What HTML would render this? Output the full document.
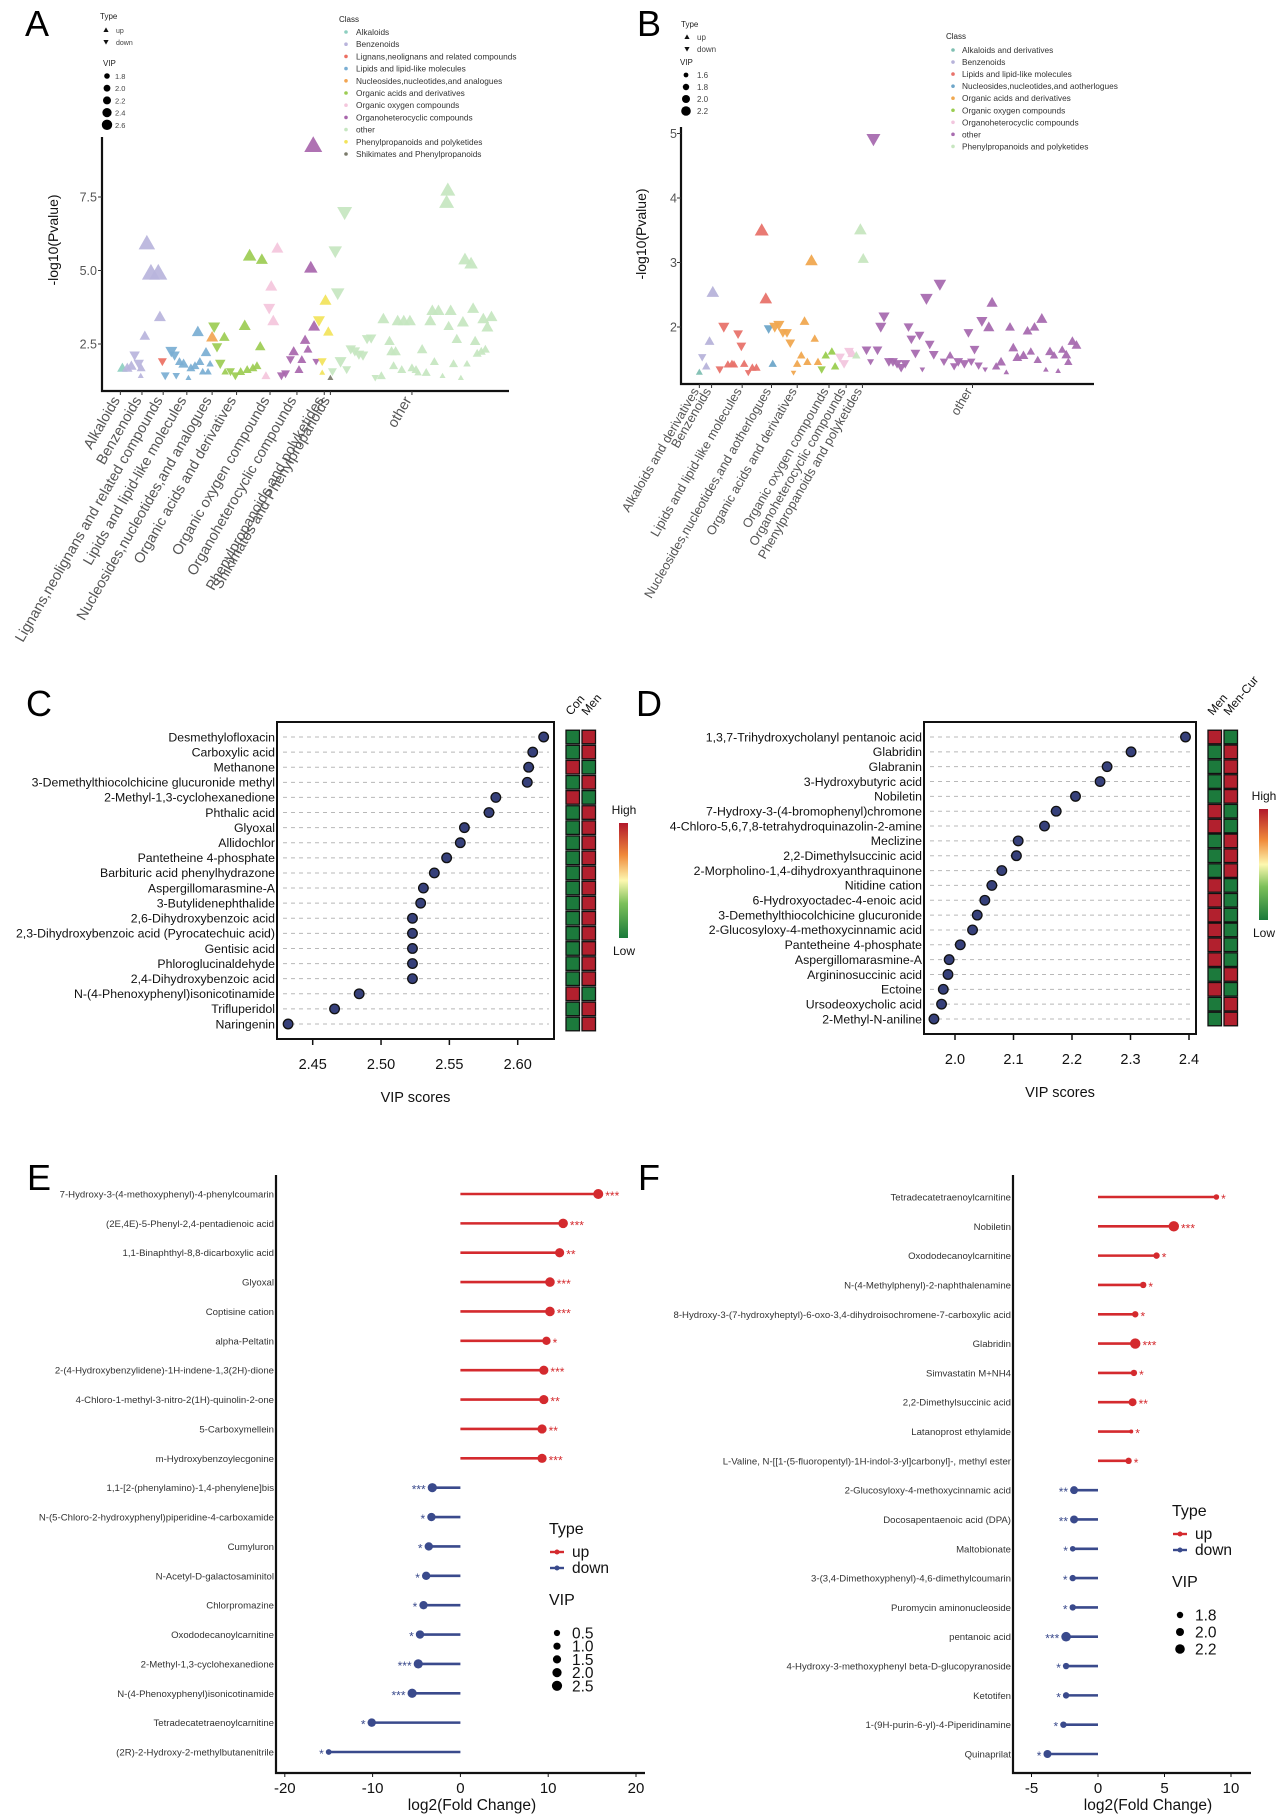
<!DOCTYPE html>
<html><head><meta charset="utf-8">
<style>
html,body{margin:0;padding:0;background:#fff;}
svg{display:block;font-family:"Liberation Sans",Arial,sans-serif;}
</style></head>
<body>
<svg id="fig" width="1279" height="1815" viewBox="0 0 1279 1815" xmlns="http://www.w3.org/2000/svg">
<defs>
<linearGradient id="cbar" x1="0" y1="1" x2="0" y2="0">
<stop offset="0" stop-color="#1a7a3a"/><stop offset="0.3" stop-color="#7cc05a"/><stop offset="0.5" stop-color="#fdf8b0"/><stop offset="0.72" stop-color="#f08a3a"/><stop offset="1" stop-color="#b2182b"/>
</linearGradient>
</defs>
<rect x="0" y="0" width="1279" height="1815" fill="#fff"/>
<text x="25" y="36" font-size="36">A</text>
<text x="637" y="36" font-size="36">B</text>
<text x="26" y="716" font-size="36">C</text>
<text x="636" y="716" font-size="36">D</text>
<text x="27" y="1190" font-size="36">E</text>
<text x="638" y="1190" font-size="36">F</text>
</svg>
<script>
// ---------- Panel A data ----------
const aClasses = ["Alkaloids","Benzenoids","Lignans,neolignans and related compounds","Lipids and lipid-like molecules","Nucleosides,nucleotides,and analogues","Organic acids and derivatives","Organic oxygen compounds","Organoheterocyclic compounds","other","Phenylpropanoids and polyketides","Shikimates and Phenylpropanoids"];
const aColors = ["#8dcfc0","#b9b4dc","#ec6f62","#7aaed3","#f2a552","#9ccc52","#f4c6dc","#a866ac","#c6e6c0","#f2e35a","#7a7a6a"];
const aTickIdx = [295,348,400,458,520,580,662,728,795,810,1010];
const aTickLabels = ["Alkaloids","Benzenoids","Lignans,neolignans and related compounds","Lipids and lipid-like molecules","Nucleosides,nucleotides,and analogues","Organic acids and derivatives","Organic oxygen compounds","Organoheterocyclic compounds","Phenylpropanoids and polyketides","Shikimates and Phenylpropanoids","other"];
const aYTicks = [2.5,5.0,7.5];
const aIdx = [300,312,322,330,340,346,345,355,360,370,388,392,398,
405,420,428,432,440,450,462,468,478,485,490,497,505,510,515,520,
525,532,540,550,552,565,577,590,600,606,612,620,630,638,642,
652,660,665,670,680,
690,700,712,720,733,740,748,755,762,768,770,775,
782,790,790,798,805,810,
815,822,828,835,845,850,860,870,880,890,900,910,920,935,940,955,960,965,970,975,985,990,1005,1010,1020,1025,1035,1045,1055,1060,1065,1075,1085,1095,1098,1100,1105,1112,1120,1130,1135,1140,1145,1155,1160,1165,1170,1180,1185,1190,1195,1205];
const aVal = [1.69,1.69,1.76,2.11,1.83,1.69,1.42,2.78,5.93,4.92,4.92,3.43,1.90,
1.42,2.25,2.11,1.42,1.90,1.83,1.35,1.69,1.76,2.92,1.90,1.56,2.22,1.56,1.83,2.74,
3.08,2.39,1.83,2.74,1.56,1.56,1.42,1.56,3.13,1.63,5.51,1.69,1.76,2.42,5.38,
1.42,3.71,4.47,3.29,5.76,
1.42,1.49,1.97,2.25,1.63,1.97,2.64,2.32,5.10,9.26,3.11,1.90,
3.29,1.90,1.53,3.99,2.92,1.35,
1.56,5.65,4.22,1.90,6.97,1.63,2.32,2.25,2.14,2.11,2.67,2.69,1.35,1.42,3.36,2.60,2.25,1.76,2.25,3.29,1.63,3.29,3.29,1.69,1.63,1.53,2.32,1.53,3.29,3.64,1.90,3.64,1.42,7.32,7.74,3.11,3.64,1.83,2.67,1.35,3.25,5.38,1.83,5.24,3.71,2.60,2.18,2.25,3.36,2.32,3.08,3.43];
const aUp = [1,1,1,0,0,1,1,1,1,1,1,1,0,
0,0,0,0,1,1,1,1,1,1,1,1,1,1,1,1,
0,0,0,1,1,0,0,1,1,1,1,1,1,1,1,
1,0,1,1,1,
0,0,0,1,1,1,1,1,1,1,1,0,
0,0,1,1,1,1,
0,0,0,0,0,0,0,0,0,0,0,0,0,1,1,1,1,1,1,1,1,1,1,1,1,1,1,1,1,1,1,1,1,1,1,1,1,1,1,1,1,1,1,1,1,1,1,1,1,1,1,1];
const aVip = [2.1,2.1,2.1,2.1,2.1,2.0,1.8,2.1,2.5,2.6,2.6,2.2,2.0,
2.0,2.2,2.1,1.9,2.0,2.1,1.8,2.0,2.0,2.2,2.0,1.9,2.1,1.9,1.9,2.2,
2.2,2.1,2.1,2.1,1.9,2.0,2.0,2.0,2.2,2.0,2.3,2.0,2.0,2.1,2.2,
2.0,2.2,2.2,2.2,2.2,
2.0,2.0,2.0,2.1,2.0,2.0,2.1,2.0,2.3,2.6,2.2,1.9,
2.2,2.0,1.8,2.2,2.1,1.8,
2.0,2.3,2.3,2.2,2.4,2.0,2.1,2.1,2.1,2.1,2.1,2.1,1.9,2.0,2.2,2.1,2.1,2.0,2.1,2.2,2.0,2.2,2.2,2.0,2.0,1.9,2.1,2.0,2.2,2.2,2.0,2.2,1.8,2.4,2.4,2.1,2.2,2.0,2.1,1.8,2.2,2.3,1.9,2.3,2.2,2.1,2.0,2.0,2.2,2.0,2.2,2.2];
const aCls = [0,1,1,1,1,1,1,1,1,1,1,1,2,
3,3,3,3,3,3,3,3,3,3,3,3,3,3,3,4,
5,5,5,5,5,5,5,5,5,5,5,5,5,5,5,
6,6,6,6,6,
7,7,7,7,7,7,7,7,7,7,7,7,
9,9,9,9,9,10,
8,8,8,8,8,8,8,8,8,8,8,8,8,8,8,8,8,8,8,8,8,8,8,8,8,8,8,8,8,8,8,8,8,8,8,8,8,8,8,8,8,8,8,8,8,8,8,8,8,8,8,8];
const aVipLegend = [1.8,2.0,2.2,2.4,2.6];

// ---------- Panel B data ----------
const bClasses = ["Alkaloids and derivatives","Benzenoids","Lipids and lipid-like molecules","Nucleosides,nucleotides,and aotherlogues","Organic acids and derivatives","Organic oxygen compounds","Organoheterocyclic compounds","other","Phenylpropanoids and polyketides"];
const bColors = ["#7fbfb2","#b7b3da","#e8736b","#6ea6c9","#f0a850","#9acd50","#f2c6de","#a86cb0","#c7e6c0"];
const bTickIdx = [145,175,250,322,385,463,505,545,815];
const bTickLabels = ["Alkaloids and derivatives","Benzenoids","Lipids and lipid-like molecules","Nucleosides,nucleotides,and aotherlogues","Organic acids and derivatives","Organic oxygen compounds","Organoheterocyclic compounds","Phenylpropanoids and polyketides","other"];
const bYTicks = [2,3,4,5];
const bIdx = [145,152,162,170,178,195,205,215,225,230,240,248,255,265,275,285,298,308,315,325,330,340,350,360,368,376,385,395,403,410,420,428,436,445,455,470,478,490,500,512,520,530,540,547,
555,565,572,582,590,598,610,620,630,640,650,658,665,675,685,692,702,710,720,735,745,760,770,780,795,805,812,820,830,838,846,855,863,873,885,898,907,915,925,940,950,958,967,975,985,995,1005,1015,1025,1035,1045,1050,1060,1070];
const bVal = [1.30,1.53,1.39,1.78,2.54,1.34,2.00,1.42,1.43,1.42,1.89,1.70,1.43,1.29,1.37,1.37,3.50,2.44,1.97,1.43,2.00,2.03,1.91,1.91,1.75,1.29,1.43,1.56,2.09,1.46,3.03,1.82,1.46,1.34,1.56,1.62,1.39,1.53,1.43,1.62,1.59,1.56,3.51,3.06,
1.64,1.46,4.91,1.64,2.00,2.16,1.46,1.46,1.43,1.37,1.43,2.00,1.81,1.59,1.87,1.34,2.44,1.73,1.57,2.66,1.46,1.56,1.39,1.46,1.43,1.91,1.46,1.65,1.40,2.09,1.34,2.00,2.38,1.39,1.46,1.30,2.00,1.68,1.53,1.56,1.94,1.62,2.00,1.49,2.13,1.34,1.62,1.56,1.32,1.65,1.57,1.46,1.78,1.72];
const bUp = [1,0,1,1,1,0,0,1,1,1,0,0,1,0,1,1,1,1,0,1,0,0,0,0,0,0,1,1,1,1,1,1,1,0,1,1,1,0,0,0,1,1,1,1,
0,0,0,0,0,0,0,0,0,0,0,0,0,0,0,0,0,0,0,0,0,1,0,0,0,0,0,0,0,0,0,1,1,1,1,1,1,1,1,1,1,1,1,1,1,1,1,1,1,1,1,1,1,1];
const bVip = [1.7,1.8,1.8,1.9,2.1,1.8,2.0,1.8,1.8,1.8,1.9,1.9,1.8,1.7,1.8,1.8,2.2,2.1,1.9,1.8,2.0,2.0,1.9,1.9,1.9,1.6,1.8,1.8,1.9,1.8,2.1,1.8,1.8,1.8,1.8,1.8,1.8,1.9,1.9,1.9,1.9,1.8,2.1,2.0,
1.9,1.7,2.2,1.9,2.0,2.0,1.9,1.9,1.9,1.9,1.9,1.9,1.9,1.9,1.9,1.6,2.1,1.9,1.9,2.1,1.8,1.8,1.8,1.9,1.9,1.9,1.8,1.9,1.8,2.0,1.6,2.0,2.0,1.8,1.9,1.6,1.9,1.9,1.9,1.9,1.9,1.8,1.9,1.8,2.0,1.6,1.9,1.8,1.6,1.8,1.9,1.8,1.9,1.9];
const bCls = [0,1,1,1,1,2,2,2,2,2,2,2,2,2,2,2,2,2,3,3,4,4,4,4,4,4,4,4,4,4,4,4,4,5,5,5,5,6,6,6,6,8,8,8,
7,7,7,7,7,7,7,7,7,7,7,7,7,7,7,7,7,7,7,7,7,7,7,7,7,7,7,7,7,7,7,7,7,7,7,7,7,7,7,7,7,7,7,7,7,7,7,7,7,7,7,7,7,7];
const bVipLegend = [1.6,1.8,2.0,2.2];

// ---------- Panel C data ----------
const cNames = ["Desmethylofloxacin","Carboxylic acid","Methanone","3-Demethylthiocolchicine glucuronide methyl","2-Methyl-1,3-cyclohexanedione","Phthalic acid","Glyoxal","Allidochlor","Pantetheine 4-phosphate","Barbituric acid phenylhydrazone","Aspergillomarasmine-A","3-Butylidenephthalide","2,6-Dihydroxybenzoic acid","2,3-Dihydroxybenzoic acid (Pyrocatechuic acid)","Gentisic acid","Phloroglucinaldehyde","2,4-Dihydroxybenzoic acid","N-(4-Phenoxyphenyl)isonicotinamide","Trifluperidol","Naringenin"];
const cVip = [2.619,2.611,2.608,2.607,2.584,2.579,2.561,2.558,2.548,2.539,2.531,2.529,2.523,2.523,2.523,2.523,2.523,2.484,2.466,2.432];
const cHigh1 = [0,0,1,0,1,0,0,0,0,0,0,0,0,0,0,0,0,1,0,0]; // 1 = Con high
const cGroups = ["Con","Men"];
const cTicks = [2.45,2.50,2.55,2.60];
const cTickLabels = ["2.45","2.50","2.55","2.60"];

// ---------- Panel D data ----------
const dNames = ["1,3,7-Trihydroxycholanyl pentanoic acid","Glabridin","Glabranin","3-Hydroxybutyric acid","Nobiletin","7-Hydroxy-3-(4-bromophenyl)chromone","4-Chloro-5,6,7,8-tetrahydroquinazolin-2-amine","Meclizine","2,2-Dimethylsuccinic acid","2-Morpholino-1,4-dihydroxyanthraquinone","Nitidine cation","6-Hydroxyoctadec-4-enoic acid","3-Demethylthiocolchicine glucuronide","2-Glucosyloxy-4-methoxycinnamic acid","Pantetheine 4-phosphate","Aspergillomarasmine-A","Argininosuccinic acid","Ectoine","Ursodeoxycholic acid","2-Methyl-N-aniline"];
const dVip = [2.394,2.301,2.260,2.248,2.206,2.173,2.153,2.108,2.105,2.080,2.063,2.051,2.038,2.030,2.009,1.990,1.988,1.980,1.977,1.964];
const dHigh1 = [1,0,0,0,0,1,1,0,0,0,1,1,1,1,1,1,0,1,0,0]; // 1 = Men high
const dGroups = ["Men","Men-Cur"];
const dTicks = [2.0,2.1,2.2,2.3,2.4];
const dTickLabels = ["2.0","2.1","2.2","2.3","2.4"];

// ---------- Panel E data ----------
const eNames = ["7-Hydroxy-3-(4-methoxyphenyl)-4-phenylcoumarin","(2E,4E)-5-Phenyl-2,4-pentadienoic acid","1,1-Binaphthyl-8,8-dicarboxylic acid","Glyoxal","Coptisine cation","alpha-Peltatin","2-(4-Hydroxybenzylidene)-1H-indene-1,3(2H)-dione","4-Chloro-1-methyl-3-nitro-2(1H)-quinolin-2-one","5-Carboxymellein","m-Hydroxybenzoylecgonine","1,1-[2-(phenylamino)-1,4-phenylene]bis","N-(5-Chloro-2-hydroxyphenyl)piperidine-4-carboxamide","Cumyluron","N-Acetyl-D-galactosaminitol","Chlorpromazine","Oxododecanoylcarnitine","2-Methyl-1,3-cyclohexanedione","N-(4-Phenoxyphenyl)isonicotinamide","Tetradecatetraenoylcarnitine","(2R)-2-Hydroxy-2-methylbutanenitrile"];
const eFC = [15.7,11.7,11.3,10.2,10.2,9.8,9.5,9.5,9.3,9.3,-3.2,-3.3,-3.6,-3.9,-4.2,-4.6,-4.8,-5.5,-10.1,-15.0];
const eVip = [2.4,2.2,2.0,2.2,2.2,1.6,2.0,2.0,2.0,2.0,2.0,1.6,1.6,1.6,1.6,1.6,2.0,2.0,1.6,0.3];
const eStars = ["***","***","**","***","***","*","***","**","**","***","***","*","*","*","*","*","***","***","*","*"];
const eTicks = [-20,-10,0,10,20];
const eVipLegend = [0.5,1.0,1.5,2.0,2.5];

// ---------- Panel F data ----------
const fNames = ["Tetradecatetraenoylcarnitine","Nobiletin","Oxododecanoylcarnitine","N-(4-Methylphenyl)-2-naphthalenamine","8-Hydroxy-3-(7-hydroxyheptyl)-6-oxo-3,4-dihydroisochromene-7-carboxylic acid","Glabridin","Simvastatin M+NH4","2,2-Dimethylsuccinic acid","Latanoprost ethylamide","L-Valine, N-[[1-(5-fluoropentyl)-1H-indol-3-yl]carbonyl]-, methyl ester","2-Glucosyloxy-4-methoxycinnamic acid","Docosapentaenoic acid (DPA)","Maltobionate","3-(3,4-Dimethoxyphenyl)-4,6-dimethylcoumarin","Puromycin aminonucleoside","pentanoic acid","4-Hydroxy-3-methoxyphenyl beta-D-glucopyranoside","Ketotifen","1-(9H-purin-6-yl)-4-Piperidinamine","Quinaprilat"];
const fFC = [8.9,5.7,4.4,3.4,2.8,2.8,2.7,2.6,2.5,2.3,-1.8,-1.8,-1.9,-1.9,-1.9,-2.4,-2.4,-2.4,-2.6,-3.8];
const fVip = [1.7,2.3,1.8,1.8,1.8,2.3,1.8,2.0,1.5,1.8,2.0,2.0,1.7,1.8,1.8,2.2,1.8,1.8,1.8,2.0];
const fStars = ["*","***","*","*","*","***","*","**","*","*","**","**","*","*","*","***","*","*","*","*"];
const fTicks = [-5,0,5,10];
const fVipLegend = [1.8,2.0,2.2];

// ---------- helpers ----------
const NS = "http://www.w3.org/2000/svg";
const svg = document.getElementById('fig');
function mk(tag, attrs, parent) {
  const e = document.createElementNS(NS, tag);
  for (const k in attrs) e.setAttribute(k, attrs[k]);
  (parent || svg).appendChild(e);
  return e;
}
function txt(s, attrs, parent) {
  const e = mk('text', attrs, parent);
  e.textContent = s;
  return e;
}
function tri(cx, cy, h, up) {
  const s = up ? 1 : -1;
  return `M${cx},${cy - s*h} L${cx + h},${cy + s*h*0.75} L${cx - h},${cy + s*h*0.75} Z`;
}

// ================= Panel A =================
(function(){
  const g = mk('g', {});
  
  
  const X0 = 102, X1 = 509, YB = 391, YT = 137;
  const xs = v => X0 + (v - 250) / (1248 - 250) * (X1 - X0);
  const ys = v => 344 - (v - 2.5) * 29.4;
  for (let i = 0; i < aIdx.length; i++) {
    const h = 3 + (aVip[i] - 1.8) * 7.5;
    const p = mk('path', {d: tri(xs(aIdx[i]), ys(aVal[i]), h, aUp[i] === 1), fill: aColors[aCls[i]], 'fill-opacity': 0.92}, g);
    
    
  }
  const ax = mk('path', {d: `M${X0},${YT} L${X0},${YB} L${X1},${YB}`, fill: 'none', stroke: '#111', 'stroke-width': 2.2}, g);
  
  
  aYTicks.forEach(t => {
    const tk = mk('line', {x1: X0 - 4, x2: X0, y1: ys(t), y2: ys(t), stroke: '#333'}, g);
    
    
    const l = txt(t.toFixed(1), {x: X0 - 5, y: ys(t) + 4.5, 'font-size': 12.5, fill: '#555', 'text-anchor': 'end'}, g);
    
    
  });
  aTickIdx.forEach((t, i) => {
    const x = xs(t);
    const tk = mk('line', {x1: x, x2: x, y1: YB, y2: YB + 4, stroke: '#333'}, g);
    
    
    const l = txt(aTickLabels[i], {x: x, y: YB + 9, 'font-size': 14.5, fill: '#555', 'text-anchor': 'end', transform: `rotate(-60 ${x} ${YB + 9})`}, g);
    
    
  });
  const yt = txt('-log10(Pvalue)', {x: 58, y: 240, 'font-size': 14, fill: '#111', 'text-anchor': 'middle', transform: 'rotate(-90 58 240)'}, g);
  
  
  const lt = txt('Type', {x: 100, y: 19, 'font-size': 8, fill: '#222'}, g);
  
  
  [['up',1,30],['down',0,42]].forEach(r => {
    const m = mk('path', {d: tri(106, r[2], 2.6, r[1] === 1), fill: '#111'}, g);
    
    
    const t = txt(r[0], {x: 116, y: r[2] + 3, 'font-size': 7, fill: '#444'}, g);
    
    
  });
  const lv = txt('VIP', {x: 103, y: 66, 'font-size': 8, fill: '#222'}, g);
  
  
  aVipLegend.forEach((v, i) => {
    const y = 76 + i * 12.2;
    const c = mk('circle', {cx: 107, cy: y, r: 2.8 + i * 0.6, fill: '#000'}, g);
    
    
    const t = txt(v.toFixed(1), {x: 115, y: y + 3, 'font-size': 7.5, fill: '#444'}, g);
    
    
  });
  const ct = txt('Class', {x: 339, y: 22, 'font-size': 8, fill: '#222'}, g);
  
  
  aClasses.forEach((c, i) => {
    const y = 32 + i * 12.2;
    const d = mk('circle', {cx: 346, cy: y, r: 1.8, fill: aColors[i]}, g);
    
    
    const t = txt(c, {x: 356, y: y + 3, 'font-size': 8.3, fill: '#333'}, g);
    
    
  });
})();

// ================= Panel B =================
(function(){
  const g = mk('g', {});
  
  
  const X0 = 681, X1 = 1094, YB = 384, YT = 127;
  const xs = v => X0 + (v - 100) / (1113 - 100) * (X1 - X0);
  const ys = v => 327 - (v - 2) * 64.5;
  for (let i = 0; i < bIdx.length; i++) {
    const h = 2.8 + (bVip[i] - 1.6) * 7;
    const p = mk('path', {d: tri(xs(bIdx[i]), ys(bVal[i]), h, bUp[i] === 1), fill: bColors[bCls[i]], 'fill-opacity': 0.95}, g);
    
    
  }
  const ax = mk('path', {d: `M${X0},${YT} L${X0},${YB} L${X1},${YB}`, fill: 'none', stroke: '#111', 'stroke-width': 2.2}, g);
  
  
  bYTicks.forEach(t => {
    const tk = mk('line', {x1: X0 - 4, x2: X0, y1: ys(t), y2: ys(t), stroke: '#333'}, g);
    
    
    const l = txt(String(t), {x: X0 - 4, y: ys(t) + 4.5, 'font-size': 12.5, fill: '#555', 'text-anchor': 'end'}, g);
    
    
  });
  bTickIdx.forEach((t, i) => {
    const x = xs(t);
    const tk = mk('line', {x1: x, x2: x, y1: YB, y2: YB + 4, stroke: '#333'}, g);
    
    
    const l = txt(bTickLabels[i], {x: x, y: YB + 7, 'font-size': 12.8, fill: '#555', 'text-anchor': 'end', transform: `rotate(-60 ${x} ${YB + 7})`}, g);
    
    
  });
  const yt = txt('-log10(Pvalue)', {x: 646, y: 234, 'font-size': 14, fill: '#111', 'text-anchor': 'middle', transform: 'rotate(-90 646 234)'}, g);
  
  
  const lt = txt('Type', {x: 681, y: 27, 'font-size': 8, fill: '#222'}, g);
  
  
  [['up',1,37],['down',0,49]].forEach(r => {
    const m = mk('path', {d: tri(687, r[2], 2.6, r[1] === 1), fill: '#111'}, g);
    
    
    const t = txt(r[0], {x: 697, y: r[2] + 3, 'font-size': 8, fill: '#444'}, g);
    
    
  });
  const lv = txt('VIP', {x: 680, y: 65, 'font-size': 8, fill: '#222'}, g);
  
  
  bVipLegend.forEach((v, i) => {
    const y = 75 + i * 12;
    const c = mk('circle', {cx: 686, cy: y, r: 2.4 + i * 0.8, fill: '#000'}, g);
    
    
    const t = txt(v.toFixed(1), {x: 697, y: y + 3, 'font-size': 8, fill: '#444'}, g);
    
    
  });
  const ct = txt('Class', {x: 946, y: 39, 'font-size': 8, fill: '#222'}, g);
  
  
  bClasses.forEach((c, i) => {
    const y = 50 + i * 12.05;
    const d = mk('circle', {cx: 953, cy: y, r: 1.8, fill: bColors[i]}, g);
    
    
    const t = txt(c, {x: 962, y: y + 3, 'font-size': 8.3, fill: '#333'}, g);
    
    
  });
})();

// ================= Panels C & D (VIP dot plots) =================
function vipPanel(cfg) {
  const g = mk('g', {});
  
  
  const n = cfg.names.length;
  const ry = i => cfg.rowTop + i * (cfg.rowBot - cfg.rowTop) / (n - 1);
  const xs = v => cfg.x0px + (v - cfg.v0) * cfg.pxPer;
  for (let i = 0; i < n; i++) {
    const y = ry(i);
    const dl = mk('line', {x1: cfg.L + 6, x2: cfg.R - 5, y1: y, y2: y, stroke: '#b8b8b8', 'stroke-width': 1, 'stroke-dasharray': '4 4'}, g);
    
    
    const t = txt(cfg.names[i], {x: cfg.L - 2, y: y + 4.3, 'font-size': 12.3, fill: '#111', 'text-anchor': 'end'}, g);
    
    
    const c = mk('circle', {cx: xs(cfg.vals[i]), cy: y, r: 4.8, fill: '#36407a', stroke: '#111', 'stroke-width': 1.3}, g);
    
    
    const cols = cfg.high1[i] ? ['#b2202e', '#1c7a3c'] : ['#1c7a3c', '#b2202e'];
    for (let k = 0; k < 2; k++) {
      const r = mk('rect', {x: cfg.hx[k], y: y - 6.8, width: 13.5, height: 13.6, fill: cols[k], stroke: '#111', 'stroke-width': 1.3}, g);
      
      
    }
  }
  const box = mk('rect', {x: cfg.L, y: cfg.T, width: cfg.R - cfg.L, height: cfg.B - cfg.T, fill: 'none', stroke: '#111', 'stroke-width': 2}, g);
  
  
  cfg.ticks.forEach((t, i) => {
    const x = xs(t);
    const tk = mk('line', {x1: x, x2: x, y1: cfg.B, y2: cfg.B + 6, stroke: '#111', 'stroke-width': 1.5}, g);
    
    
    const l = txt(cfg.tickLabels[i], {x: x, y: cfg.B + 30, 'font-size': 14.5, fill: '#111', 'text-anchor': 'middle'}, g);
    
    
  });
  const xt = txt('VIP scores', {x: (cfg.L + cfg.R) / 2, y: cfg.B + 63, 'font-size': 14.5, fill: '#111', 'text-anchor': 'middle'}, g);
  
  
  cfg.groups.forEach((s, k) => {
    const x = cfg.hx[k] + 5, y = cfg.T - 6;
    const t = txt(s, {x: x, y: y, 'font-size': 12, fill: '#111', transform: `rotate(-50 ${x} ${y})`}, g);
    
    
  });
  const cb = mk('rect', {x: cfg.cbx, y: cfg.cbT, width: 9, height: cfg.cbB - cfg.cbT, fill: 'url(#cbar)'}, g);
  
  
  const hi = txt('High', {x: cfg.cbx + 5, y: cfg.cbT - 9, 'font-size': 12, fill: '#111', 'text-anchor': 'middle'}, g);
  
  
  const lo = txt('Low', {x: cfg.cbx + 5, y: cfg.cbB + 17, 'font-size': 12, fill: '#111', 'text-anchor': 'middle'}, g);
  
  
}
vipPanel({name: 'panel-c-vip-plot', names: cNames, vals: cVip, high1: cHigh1, groups: cGroups, ticks: cTicks, tickLabels: cTickLabels,
  L: 277, R: 554, T: 722, B: 1039, rowTop: 737, rowBot: 1024, v0: 2.45, x0px: 312.7, pxPer: 1366.7,
  hx: [566, 582], cbx: 619, cbT: 823, cbB: 938});
vipPanel({name: 'panel-d-vip-plot', names: dNames, vals: dVip, high1: dHigh1, groups: dGroups, ticks: dTicks, tickLabels: dTickLabels,
  L: 924, R: 1196, T: 722, B: 1034, rowTop: 737, rowBot: 1019, v0: 2.0, x0px: 955, pxPer: 585,
  hx: [1208, 1224], cbx: 1259, cbT: 809, cbB: 920});

// ================= Panels E & F (lollipops) =================
function lolli(cfg) {
  const g = mk('g', {});
  
  
  const n = cfg.names.length;
  const ry = i => cfg.rowTop + i * (cfg.rowBot - cfg.rowTop) / (n - 1);
  const xs = v => cfg.zero + v * cfg.pxPer;
  for (let i = 0; i < n; i++) {
    const y = ry(i), v = cfg.fc[i], up = v > 0;
    const col = up ? '#d42a2e' : '#3a4a8c';
    const t = txt(cfg.names[i], {x: cfg.L - 2, y: y + 3.5, 'font-size': 9.6, fill: '#333', 'text-anchor': 'end'}, g);
    
    
    const ln = mk('line', {x1: xs(0), x2: xs(v), y1: y, y2: y, stroke: col, 'stroke-width': 2.6}, g);
    
    
    const r = cfg.rad(cfg.vip[i]);
    const d = mk('circle', {cx: xs(v), cy: y, r: r, fill: col}, g);
    
    
    const s = txt(cfg.stars[i], {x: up ? xs(v) + r + 2 : xs(v) - r - 2, y: y + 6, 'font-size': 12, fill: col, 'text-anchor': up ? 'start' : 'end'}, g);
    
    
  }
  const ax = mk('path', {d: `M${cfg.L},${cfg.T} L${cfg.L},${cfg.B} L${cfg.R},${cfg.B}`, fill: 'none', stroke: '#111', 'stroke-width': 2.2}, g);
  
  
  cfg.ticks.forEach(t => {
    const x = xs(t);
    const tk = mk('line', {x1: x, x2: x, y1: cfg.B, y2: cfg.B + 4, stroke: '#111'}, g);
    
    
    const l = txt(String(t), {x: x, y: cfg.B + 20, 'font-size': 15, fill: '#111', 'text-anchor': 'middle'}, g);
    
    
  });
  const xt = txt('log2(Fold Change)', {x: cfg.titleX, y: cfg.B + 37, 'font-size': 15.5, fill: '#111', 'text-anchor': 'middle'}, g);
  
  
  const lx = cfg.legX;
  const tt = txt('Type', {x: lx, y: cfg.legY, 'font-size': 16, fill: '#111'}, g);
  
  
  [['up', '#d42a2e', 18], ['down', '#3a4a8c', 34]].forEach(e => {
    const y = cfg.legY + e[2];
    const l = mk('line', {x1: lx + 1, x2: lx + 15, y1: y, y2: y, stroke: e[1], 'stroke-width': 2.4}, g);
    
    
    const c = mk('circle', {cx: lx + 8, cy: y, r: 2.5, fill: e[1]}, g);
    
    
    const t = txt(e[0], {x: lx + 23, y: y + 5, 'font-size': 15.5, fill: '#111'}, g);
    
    
  });
  const vt = txt('VIP', {x: lx, y: cfg.legY + 71, 'font-size': 16, fill: '#111'}, g);
  
  
  cfg.vipLegend.forEach((v, i) => {
    const y = cfg.legY + 99 + i * cfg.legStep;
    const c = mk('circle', {cx: lx + 8, cy: y, r: cfg.rad(v), fill: '#000'}, g);
    
    
    const t = txt(v.toFixed(1), {x: lx + 23, y: y + 5.5, 'font-size': 15.5, fill: '#111'}, g);
    
    
  });
}
lolli({name: 'panel-e-lollipop', names: eNames, fc: eFC, vip: eVip, stars: eStars, ticks: eTicks, vipLegend: eVipLegend,
  L: 276, R: 645, T: 1175, B: 1773, rowTop: 1194, rowBot: 1752, zero: 460.4, pxPer: 8.78, titleX: 472,
  rad: v => 2.6 + v * 1.0, legX: 549, legY: 1534, legStep: 13.2});
lolli({name: 'panel-f-lollipop', names: fNames, fc: fFC, vip: fVip, stars: fStars, ticks: fTicks, vipLegend: fVipLegend,
  L: 1013, R: 1251, T: 1175, B: 1773, rowTop: 1197, rowBot: 1754, zero: 1098, pxPer: 13.3, titleX: 1148,
  rad: v => Math.max(2, 3.2 + (v - 1.8) * 4), legX: 1172, legY: 1516, legStep: 17});
</script>
</body></html>
